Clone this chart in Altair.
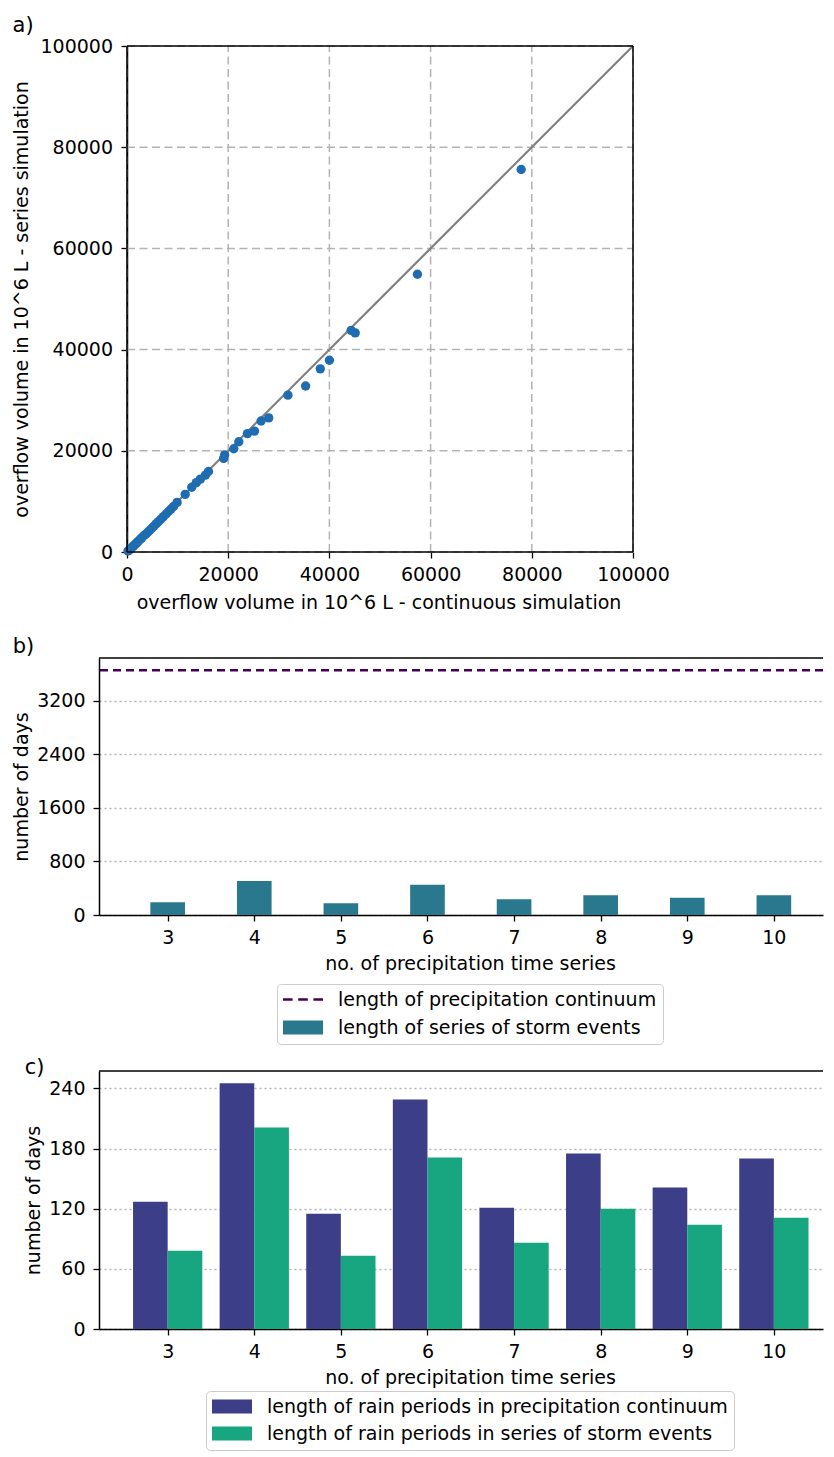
import altair as alt
import pandas as pd

# ---------------- data ----------------
# panel a: overflow volume in 10^6 L
continuous_sim = [77900, 57400, 44300, 45100, 40000, 38200, 35300, 31800, 28000, 26500,
                  25200, 23800, 22100, 21100, 19300, 19100, 16100, 15500, 14500, 13700,
                  12800, 11500, 9900, 9200, 8700, 8200, 7700, 7200, 6700, 6200,
                  5800, 5300, 4900, 4500, 4100, 3700, 3300, 2900, 2600, 2200,
                  1900, 1600, 1300, 1000, 700, 450, 200]
series_sim = [75600, 54900, 43800, 43300, 37900, 36200, 32800, 31000, 26500, 25900,
              23900, 23400, 21800, 20400, 19200, 18500, 15900, 15200, 14400, 13700,
              12800, 11400, 9800, 9000, 8500, 8000, 7500, 7000, 6500, 6000,
              5600, 5100, 4700, 4300, 3900, 3500, 3200, 2800, 2500, 2100,
              1800, 1500, 1200, 950, 650, 400, 200]
identity_line = [0, 100000]
ticks_a = [0, 20000, 40000, 60000, 80000, 100000]
axis_range_a = [0, 100000]

# panels b and c
n_series = [3, 4, 5, 6, 7, 8, 9, 10]
storm_series_len = [189, 507, 174, 452, 234, 293, 258, 293]
continuum_len = [3653]
ticks_b = [0, 800, 1600, 2400, 3200]
rain_continuum = [127, 245, 115, 229, 121, 175, 141, 170]
rain_storm = [78, 201, 73, 171, 86, 120, 104, 111]
ticks_c = [0, 60, 120, 180, 240]

B_CONT = "length of precipitation continuum"
B_STORM = "length of series of storm events"
C_CONT = "length of rain periods in precipitation continuum"
C_STORM = "length of rain periods in series of storm events"

FONT = "DejaVu Sans"
FS = 19
COL_DASH = "#440154"
COL_B = "#2a788e"
COL_C1 = "#3c3f88"
COL_C2 = "#17a67f"
GRID_COL = "#b3b3b3"
DASH_PATH = "M-1,-0.065H-0.52V0.065H-1Z M-0.24,-0.065H0.24V0.065H-0.24Z M0.52,-0.065H1V0.065H0.52Z"
RECT_PATH = "M-1,-0.35H1V0.35H-1Z"
W_A = 534      # plot a shares its left edge with b/c; its own y axis is shifted inwards
SHIFT_A = 28
W_BC = 724
PX_PER_SERIES = 86.6
X_LO = 2.207


def panel_title(txt, offset=0, dy=0):
    return alt.TitleParams(txt, anchor="start", frame="bounds", fontSize=21, font=FONT,
                           fontWeight="normal", color="black", offset=offset, dy=dy)


# ---------------- panel a ----------------
df_a = pd.DataFrame({"cont": continuous_sim, "ser": series_sim})
df_line = pd.DataFrame({"v": identity_line})
df_ticks_a = pd.DataFrame({"t": ticks_a})
df_rng = pd.DataFrame({"lo": [axis_range_a[0]], "hi": [axis_range_a[1]]})

sc_xa = alt.Scale(domain=[-SHIFT_A / 506 * 100000, 100000], nice=False, zero=False)
sc_ya = alt.Scale(domain=[0, 100000], nice=False)
ax_xa = alt.Axis(title="overflow volume in 10^6 L - continuous simulation", values=ticks_a,
                 format="d", grid=False, domain=False, labelOverlap=False, labelFlush=False,
                 labelPadding=7, titlePadding=9, titleX=279.5, titleAlign="center")
ax_ya = alt.Axis(title="overflow volume in 10^6 L - series simulation", values=ticks_a,
                 format="d", grid=False, offset=-SHIFT_A, labelOverlap=False, labelFlush=False,
                 labelPadding=8.5, titlePadding=8.4)

grid_v = alt.Chart(df_ticks_a).mark_rule(color=GRID_COL, strokeDash=[8, 4.5], strokeWidth=1.5).encode(
    x=alt.X("t:Q", scale=sc_xa, axis=ax_xa),
    y=alt.datum(axis_range_a[0], scale=sc_ya, axis=ax_ya),
    y2=alt.datum(axis_range_a[1]),
)
grid_h = alt.Chart(df_ticks_a).mark_rule(color=GRID_COL, strokeDash=[8, 4.5], strokeWidth=1.5).encode(
    y=alt.Y("t:Q", scale=sc_ya, axis=ax_ya),
    x=alt.datum(axis_range_a[0]),
    x2=alt.datum(axis_range_a[1]),
)
line_a = alt.Chart(df_line).mark_line(color="#808080", strokeWidth=2.2).encode(
    x=alt.X("v:Q", scale=sc_xa, axis=ax_xa),
    y=alt.Y("v:Q", scale=sc_ya, axis=ax_ya),
)
pts_a = alt.Chart(df_a).mark_circle(size=88, color="#1f6db0", opacity=1).encode(
    x=alt.X("cont:Q", scale=sc_xa, axis=ax_xa),
    y=alt.Y("ser:Q", scale=sc_ya, axis=ax_ya),
)
frame_h = alt.Chart(df_rng).transform_fold(["lo", "hi"], as_=["side", "yv"]).mark_rule(
    color="black", strokeWidth=1.5).encode(
    y=alt.Y("yv:Q", scale=sc_ya, axis=ax_ya),
    x=alt.datum(axis_range_a[0]),
    x2=alt.datum(axis_range_a[1]),
)
frame_v = alt.Chart(df_rng).transform_fold(["lo", "hi"], as_=["side", "xv"]).mark_rule(
    color="black", strokeWidth=1.5).encode(
    x=alt.X("xv:Q", scale=sc_xa, axis=ax_xa),
    y=alt.datum(axis_range_a[0]),
    y2=alt.datum(axis_range_a[1]),
)
panel_a = alt.layer(grid_v, grid_h, line_a, pts_a, frame_h, frame_v).properties(
    width=W_A, height=506, title=panel_title("a)", offset=1),
    view=alt.ViewBackground(stroke="transparent"),
)

# ---------------- panel b ----------------
x_sc = alt.Scale(domain=[X_LO, X_LO + W_BC / PX_PER_SERIES], nice=False, zero=False)
ax_x_bc = alt.Axis(title="no. of precipitation time series", values=n_series, format="d",
                   grid=False, labelPadding=7, titlePadding=7, titleX=371, titleAlign="center")

legend_common = dict(
    title=None, orient="none", direction="vertical",
    labelFont=FONT, labelFontSize=FS, labelColor="black", labelLimit=800, labelOffset=15,
    symbolSize=1600, clipHeight=19, strokeColor="#cccccc", fillColor="white", cornerRadius=4,
    symbolStrokeWidth=0, symbolOpacity=1,
)

legend_b = alt.Legend(legendX=178, legendY=326, rowPadding=8, padding=6, **legend_common)

sc_yb = alt.Scale(domain=[0, 3836], nice=False)
ax_yb = alt.Axis(title="number of days", values=ticks_b, format="d", grid=True,
                 gridDash=[2, 3], gridColor=GRID_COL, gridWidth=1.3,
                 labelPadding=8, titlePadding=5)

df_b = pd.DataFrame({"n": n_series, "days": storm_series_len})
bars_b = alt.Chart(df_b).transform_calculate(
    x0="datum.n - 0.2", x1="datum.n + 0.2"
).mark_bar(color=COL_B).encode(
    x=alt.X("x0:Q", scale=x_sc, axis=ax_x_bc),
    x2="x1:Q",
    y=alt.Y("days:Q", scale=sc_yb, axis=ax_yb),
    y2=alt.datum(0),
)
rule_b = alt.Chart(pd.DataFrame({"days": continuum_len})).mark_rule(
    color=COL_DASH, strokeDash=[8, 5], strokeWidth=2.6
).encode(y=alt.Y("days:Q", scale=sc_yb, axis=ax_yb))
top_b = alt.Chart(pd.DataFrame({"k": [0]})).mark_rule(color="black", strokeWidth=1.5).encode(
    y=alt.value(0))
# legend carrier: no marks drawn, only the merged colour/shape legend
legend_layer_b = alt.Chart(pd.DataFrame({"label_b": [B_CONT, B_STORM]})).transform_filter(
    "false"
).mark_point(filled=True, opacity=1).encode(
    color=alt.Color("label_b:N", scale=alt.Scale(domain=[B_CONT, B_STORM], range=[COL_DASH, COL_B]),
                    legend=legend_b),
    shape=alt.Shape("label_b:N", scale=alt.Scale(domain=[B_CONT, B_STORM], range=[DASH_PATH, RECT_PATH]),
                    legend=legend_b),
)

panel_b = alt.layer(bars_b, rule_b, top_b, legend_layer_b).properties(
    width=W_BC, height=257, title=panel_title("b)", offset=0),
    view=alt.ViewBackground(stroke="transparent"),
)

# ---------------- panel c ----------------
legend_c = alt.Legend(legendX=107, legendY=320, rowPadding=7, padding=6,
                      symbolType=RECT_PATH, **legend_common)
sc_yc = alt.Scale(domain=[0, 257.3], nice=False)
ax_yc = alt.Axis(title="number of days", values=ticks_c, format="d", grid=True,
                 gridDash=[2, 3], gridColor=GRID_COL, gridWidth=1.3,
                 labelPadding=8, titlePadding=5)

df_c = pd.DataFrame({
    "n": n_series + n_series,
    "days": rain_continuum + rain_storm,
    "label_c": [C_CONT] * len(n_series) + [C_STORM] * len(n_series),
})
bars_c = alt.Chart(df_c).transform_calculate(
    x0=f"datum.label_c === '{C_CONT}' ? datum.n - 0.4 : datum.n",
).transform_calculate(
    x1="datum.x0 + 0.4"
).mark_bar().encode(
    x=alt.X("x0:Q", scale=x_sc, axis=ax_x_bc),
    x2="x1:Q",
    y=alt.Y("days:Q", scale=sc_yc, axis=ax_yc),
    y2=alt.datum(0),
    color=alt.Color("label_c:N", scale=alt.Scale(domain=[C_CONT, C_STORM],
                                                 range=[COL_C1, COL_C2]),
                    legend=legend_c),
)
top_c = alt.Chart(pd.DataFrame({"k": [0]})).mark_rule(color="black", strokeWidth=1.5).encode(
    y=alt.value(0))
panel_c = alt.layer(bars_c, top_c).properties(
    width=W_BC, height=258, title=panel_title("c)", offset=0, dy=8),
    view=alt.ViewBackground(stroke="transparent"),
)

lower = alt.vconcat(panel_b, panel_c, spacing=11).resolve_scale(
    color="independent", shape="independent")
chart = alt.vconcat(panel_a, lower, spacing=22).resolve_scale(
    color="independent", shape="independent"
).properties(
    padding={"left": 4, "top": 6, "right": 0, "bottom": 0}
).configure_axis(
    labelFont=FONT, titleFont=FONT, labelFontSize=FS, titleFontSize=FS,
    labelColor="black", titleColor="black", titleFontWeight="normal",
    domainColor="black", domainWidth=1.5, tickColor="black", tickWidth=1.3, tickSize=6,
).configure_view(stroke="transparent")

chart.save("out.html", embed_options={"renderer": "svg", "actions": False})
